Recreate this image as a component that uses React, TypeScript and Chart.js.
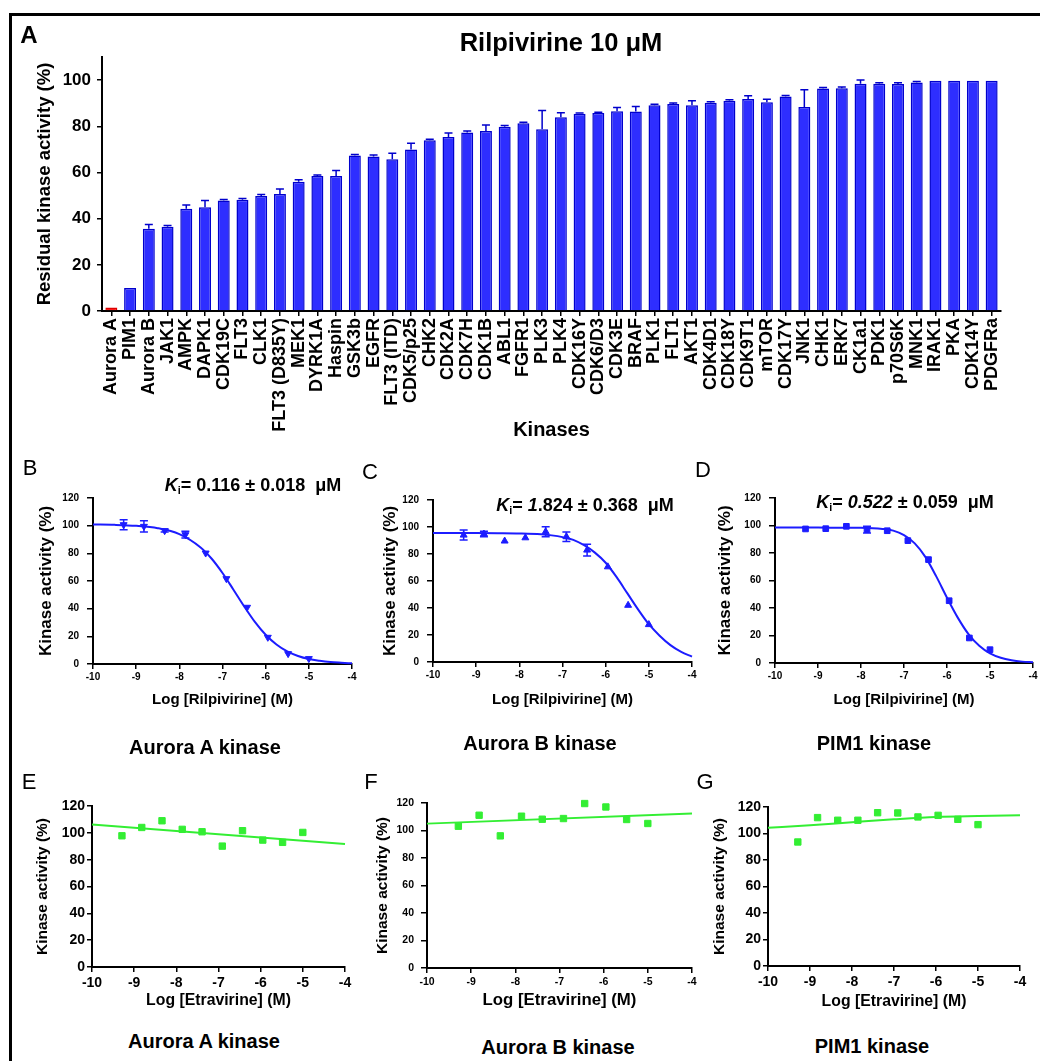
import React, { useEffect, useRef } from "react";
import { Chart, registerables } from "chart.js";

Chart.register(...registerables);

const FONT = "'Liberation Sans', Arial, Helvetica, sans-serif";
Chart.defaults.font.family = FONT;
Chart.defaults.color = "#000";

// ---------------- Panel A data ----------------
const kinases = [
  "Aurora A", "PIM1", "Aurora B", "JAK1", "AMPK", "DAPK1", "CDK19C", "FLT3", "CLK1", "FLT3 (D835Y)",
  "MEK1", "DYRK1A", "Haspin", "GSK3b", "EGFR", "FLT3 (ITD)", "CDK5/p25", "CHK2", "CDK2A", "CDK7H",
  "CDK1B", "ABL1", "FGFR1", "PLK3", "PLK4", "CDK16Y", "CDK6/D3", "CDK3E", "BRAF", "PLK1",
  "FLT1", "AKT1", "CDK4D1", "CDK18Y", "CDK9T1", "mTOR", "CDK17Y", "JNK1", "CHK1", "ERK7",
  "CK1a1", "PDK1", "p70S6K", "MNK1", "IRAK1", "PKA", "CDK14Y", "PDGFRa",
];
const residualActivity = [
  1.5, 10, 35.6, 36.5, 44.3, 44.9, 47.9, 48.2, 49.8, 50.7,
  56, 58.5, 58.5, 67.3, 66.9, 65.7, 69.9, 74, 75.4, 77.3,
  77.9, 79.8, 81.3, 78.7, 83.9, 85.4, 85.7, 86.5, 86.4, 89.1,
  89.6, 89.1, 90.2, 91, 91.8, 90.4, 92.9, 88.4, 96.4, 96.5,
  98.4, 98.4, 98.3, 99, 99.7, 99.7, 99.7, 99.7,
];
const residualError = [
  0, 0, 1.9, 0.5, 1.6, 3, 0.4, 0.5, 0.6, 2.1,
  0.8, 0.4, 2.3, 0.5, 0.7, 2.6, 2.7, 0.4, 1.7, 0.6,
  2.7, 0.5, 0.4, 8.1, 2, 0.4, 0.4, 1.6, 2.2, 0.4,
  0.5, 2, 0.4, 0.5, 1.4, 1.3, 0.4, 7.4, 0.4, 0.5,
  1.6, 0.4, 0.5, 0.4, 0, 0, 0, 0,
];
const residualTicks = [0, 20, 40, 60, 80, 100];

// ---------------- Dose-response data ----------------
const logTicks = [-10, -9, -8, -7, -6, -5, -4];
const activityTicks = [0, 20, 40, 60, 80, 100, 120];
const logConc = [-9.29, -8.82, -8.34, -7.86, -7.39, -6.91, -6.43, -5.95, -5.48, -5.0];

const rilAuroraA = [100.7, 99.5, 96.4, 93.5, 80.2, 61.7, 41, 19.3, 7.5, 3.9];
const rilAuroraAErr = [3.6, 4, 1, 2.5, 0, 0, 0, 0, 0, 0];
const rilAuroraB = [94, 94.8, 89.6, 92, 96.5, 92.8, 82.9, 70.5, 42, 27.7];
const rilAuroraBErr = [3.7, 2, 0, 0, 3.7, 3.5, 4.3, 0, 0, 0];
const rilPim1 = [97.5, 97.7, 99.4, 97, 96.2, 89, 75.2, 45.3, 18.2, 9.7];
const rilPim1Err = [0, 0, 0, 2.5, 0, 0, 0, 0, 0, 0];

const fitX = [-10, -9.5, -9, -8.5, -8, -7.5, -7.25, -7, -6.75, -6.5, -6.25, -6, -5.75, -5.5, -5.25, -5, -4.75, -4.5, -4.25, -4];
const rilAuroraAFit = [100.85, 100.6, 99.9, 98.2, 93.9, 84.1, 76.1, 65.8, 53.9, 41.7, 30.4, 21.1, 14.1, 9.1, 5.8, 3.6, 2.3, 1.4, 0.9, 0.5];
const rilAuroraBFit = [95.5, 95.5, 95.5, 95.4, 95.2, 94.6, 93.8, 92.5, 90.5, 86.5, 81, 73.5, 63, 51, 39, 28, 19.5, 12.5, 7.5, 4];
const rilPim1Fit = [98.5, 98.5, 98.5, 98.4, 98.3, 97.5, 96.3, 93, 87, 77, 63, 47.5, 33, 21, 12.5, 7, 3.8, 2, 1, 0.5];

const etraAuroraA = [97.8, 104, 109, 102.6, 100.8, 90.1, 101.6, 94.6, 92.9, 100.3];
const etraAuroraB = [103.1, 111.1, 96.1, 110.4, 108.2, 108.7, 119.6, 117.1, 108, 105.1];
const etraPim1 = [93.6, 112, 110, 110, 115.7, 115.5, 112.5, 113.7, 110.7, 106.7];
const etraLineX = [-10, -4];
const etraAuroraAFit = [106.3, 91.6];
const etraAuroraBFit = [105, 112.3];
const etraPim1FitX = [-10, -9, -8, -7, -6, -5, -4];
const etraPim1Fit = [104.4, 106.2, 108.5, 110.7, 112.5, 113.2, 113.7];

const kiValues = ["0.116 \u00b1 0.018", "1.824 \u00b1 0.368", "0.522 \u00b1 0.059"];

// ---------------- helpers ----------------
const BLUE = "#1c1cff";
const BAR_FILL = "#2e2eff";
const BAR_EDGE = "#0000cc";
const GREEN = "#33ee33";

type Geo = { left: number; top: number; width: number; height: number; l: number; t: number; r: number; b: number };

const toXY = (xs: number[], ys: number[]) => xs.map((x, i) => ({ x, y: ys[i] }));

const errorBarPlugin = {
  id: "errorBars",
  afterDatasetsDraw(chart: any, _args: any, opts: any) {
    if (!opts || !opts.errors) return;
    const idx = opts.datasetIndex || 0;
    const meta = chart.getDatasetMeta(idx);
    const ys = chart.scales.y;
    const ctx = chart.ctx;
    const data = chart.data.datasets[idx].data;
    const cap = opts.cap || 8;
    ctx.save();
    ctx.strokeStyle = opts.color;
    ctx.lineWidth = opts.lineWidth || 1.5;
    meta.data.forEach((el: any, i: number) => {
      const e = opts.errors[i];
      if (!e) return;
      const v = data[i];
      const val = typeof v === "number" ? v : v.y;
      const x = el.x;
      const yTop = ys.getPixelForValue(val + e);
      const yBot = opts.upOnly ? ys.getPixelForValue(val) : ys.getPixelForValue(val - e);
      ctx.beginPath();
      ctx.moveTo(x, yBot);
      ctx.lineTo(x, yTop);
      ctx.moveTo(x - cap / 2, yTop);
      ctx.lineTo(x + cap / 2, yTop);
      if (!opts.upOnly) {
        ctx.moveTo(x - cap / 2, yBot);
        ctx.lineTo(x + cap / 2, yBot);
      }
      ctx.stroke();
    });
    ctx.restore();
  },
};

function ChartBox({ geo, config }: { geo: Geo; config: () => any }) {
  const ref = useRef<HTMLCanvasElement | null>(null);
  useEffect(() => {
    if (!ref.current) return;
    const c = new Chart(ref.current, config());
    return () => c.destroy();
  }, []);
  return (
    <canvas
      ref={ref}
      width={geo.width}
      height={geo.height}
      style={{ position: "absolute", left: geo.left, top: geo.top, width: geo.width, height: geo.height }}
    />
  );
}

function Label(props: { x: number; y: number; size: number; bold?: boolean; rotate?: boolean; children: any }) {
  return (
    <div
      style={{
        position: "absolute",
        left: props.x,
        top: props.y,
        transform: "translate(-50%, -50%)" + (props.rotate ? " rotate(-90deg)" : ""),
        fontSize: props.size,
        fontWeight: props.bold ? "bold" : "normal",
        lineHeight: 1,
        whiteSpace: "nowrap",
        color: "#000",
      }}
    >
      {props.children}
    </div>
  );
}

// ---------------- Panel A ----------------
const geoA: Geo = { left: 0, top: 0, width: 1040, height: 460, l: 102, t: 57, r: 1001, b: 311 };

function configA() {
  const g = geoA;
  return {
    type: "bar",
    data: {
      labels: kinases,
      datasets: [
        {
          data: residualActivity,
          backgroundColor: kinases.map((_, i) => (i === 0 ? "#ff1a1a" : BAR_FILL)),
          borderColor: kinases.map((_, i) => (i === 0 ? "#dd0000" : BAR_EDGE)),
          borderWidth: 1.5,
          barPercentage: 0.64,
          categoryPercentage: 1,
        },
      ],
    },
    plugins: [errorBarPlugin],
    options: {
      animation: false,
      responsive: false,
      layout: { padding: { top: g.t - g.top, right: g.left + g.width - g.r, left: 0, bottom: 0 } },
      plugins: {
        legend: { display: false },
        tooltip: { enabled: false },
        errorBars: { datasetIndex: 0, errors: residualError, upOnly: true, color: BAR_EDGE, cap: 8, lineWidth: 1.5 },
      },
      scales: {
        x: {
          ticks: { autoSkip: false, minRotation: 90, maxRotation: 90, padding: 2, color: "#000", font: { size: 18, weight: "bold" } },
          grid: { drawOnChartArea: false, offset: false, tickLength: 5, color: "#000", lineWidth: 1.5 },
          border: { color: "#000", width: 2 },
          title: {
            display: true,
            text: "Kinases",
            color: "#000",
            font: { size: 20, weight: "bold", lineHeight: 1.2 },
            padding: { top: 0, bottom: g.top + g.height - 430 - 20 * 0.6 },
          },
          afterFit: (s: any) => {
            s.height = g.top + g.height - g.b;
          },
        },
        y: {
          min: 0,
          max: 110,
          afterBuildTicks: (s: any) => {
            s.ticks = residualTicks.map((v) => ({ value: v }));
          },
          ticks: { padding: 6, color: "#000", font: { size: 17, weight: "bold" } },
          grid: { drawOnChartArea: false, tickLength: 5, color: "#000", lineWidth: 1.5 },
          border: { color: "#000", width: 2 },
          title: {
            display: true,
            text: "Residual kinase activity (%)",
            color: "#000",
            font: { size: 18.5, weight: "bold", lineHeight: 1.2 },
            padding: { top: 45 - g.left - 18.5 * 0.6, bottom: 0 },
          },
          afterFit: (s: any) => {
            s.width = g.l - g.left;
          },
        },
      },
    },
  };
}

// ---------------- Dose panels ----------------
type DoseSpec = {
  geo: Geo;
  markers: { x: number; y: number }[];
  errors: number[] | null;
  fit: { x: number; y: number }[];
  color: string;
  pointStyle: string;
  rotation: number;
  radius: number;
  xTitle: string;
  yTitleCx: number;
  xTitleCy: number;
  tickSize: number;
  yTitleSize: number;
  xTitleSize: number;
  yTickPad: number;
  yTickLen: number;
  xTickPad: number;
  curved: boolean;
};

function doseConfig(p: DoseSpec) {
  const g = p.geo;
  return {
    type: "scatter",
    data: {
      datasets: [
        {
          data: p.markers,
          showLine: false,
          pointStyle: p.pointStyle,
          pointRotation: p.rotation,
          pointRadius: p.radius,
          backgroundColor: p.color,
          borderColor: p.color,
          borderWidth: 1,
          clip: false,
        },
        {
          data: p.fit,
          showLine: true,
          pointRadius: 0,
          borderColor: p.color,
          borderWidth: 2,
          fill: false,
          cubicInterpolationMode: p.curved ? "monotone" : "default",
          tension: 0,
          clip: false,
        },
      ],
    },
    plugins: [errorBarPlugin],
    options: {
      animation: false,
      responsive: false,
      layout: { padding: { top: g.t - g.top, right: g.left + g.width - g.r, left: 0, bottom: 0 } },
      plugins: {
        legend: { display: false },
        tooltip: { enabled: false },
        errorBars: p.errors
          ? { datasetIndex: 0, errors: p.errors, upOnly: false, color: p.color, cap: 8, lineWidth: 1.5 }
          : false,
      },
      scales: {
        x: {
          type: "linear",
          min: -10,
          max: -4,
          afterBuildTicks: (s: any) => {
            s.ticks = logTicks.map((v) => ({ value: v }));
          },
          ticks: { padding: p.xTickPad, color: "#000", font: { size: p.tickSize, weight: "bold" } },
          grid: { drawOnChartArea: false, tickLength: 5, color: "#000", lineWidth: 1.5 },
          border: { color: "#000", width: 2 },
          title: {
            display: true,
            text: p.xTitle,
            color: "#000",
            font: { size: p.xTitleSize, weight: "bold", lineHeight: 1.2 },
            padding: { top: 0, bottom: g.top + g.height - p.xTitleCy - p.xTitleSize * 0.6 },
          },
          afterFit: (s: any) => {
            s.height = g.top + g.height - g.b;
          },
        },
        y: {
          type: "linear",
          min: 0,
          max: 120,
          afterBuildTicks: (s: any) => {
            s.ticks = activityTicks.map((v) => ({ value: v }));
          },
          ticks: { padding: p.yTickPad, color: "#000", font: { size: p.tickSize, weight: "bold" } },
          grid: { drawOnChartArea: false, tickLength: p.yTickLen, color: "#000", lineWidth: 1.5 },
          border: { color: "#000", width: 2 },
          title: {
            display: true,
            text: "Kinase activity (%)",
            color: "#000",
            font: { size: p.yTitleSize, weight: "bold", lineHeight: 1.2 },
            padding: { top: p.yTitleCx - g.left - p.yTitleSize * 0.6, bottom: 0 },
          },
          afterFit: (s: any) => {
            s.width = g.l - g.left;
          },
        },
      },
    },
  };
}

const rilCommon = {
  xTitle: "Log [Rilpivirine] (M)",
  xTitleCy: 700,
  tickSize: 10,
  yTitleSize: 17,
  xTitleSize: 15,
  yTickPad: 8,
  yTickLen: 6,
  xTickPad: 2,
  curved: true,
  color: BLUE,
};

const specB: DoseSpec = {
  ...rilCommon,
  geo: { left: 0, top: 455, width: 380, height: 270, l: 93, t: 498, r: 352, b: 664 },
  markers: toXY(logConc, rilAuroraA),
  errors: rilAuroraAErr,
  fit: toXY(fitX, rilAuroraAFit),
  pointStyle: "triangle",
  rotation: 180,
  radius: 4,
  yTitleCx: 46,
};
const specC: DoseSpec = {
  ...rilCommon,
  geo: { left: 350, top: 455, width: 370, height: 270, l: 433, t: 500, r: 692, b: 662 },
  markers: toXY(logConc, rilAuroraB),
  errors: rilAuroraBErr,
  fit: toXY(fitX, rilAuroraBFit),
  pointStyle: "triangle",
  rotation: 0,
  radius: 4,
  yTitleCx: 390,
};
const specD: DoseSpec = {
  ...rilCommon,
  geo: { left: 690, top: 455, width: 350, height: 270, l: 775, t: 498, r: 1033, b: 663 },
  markers: toXY(logConc, rilPim1),
  errors: rilPim1Err,
  fit: toXY(fitX, rilPim1Fit),
  pointStyle: "rect",
  rotation: 0,
  radius: 4,
  yTitleCx: 725,
};

const etraCommon = {
  xTitle: "Log [Etravirine] (M)",
  yTitleSize: 15.5,
  xTitleSize: 15.8,
  yTickPad: 2,
  yTickLen: 5,
  xTickPad: 3,
  color: GREEN,
  pointStyle: "rect",
  rotation: 0,
  radius: 4.5,
  errors: null,
};

const specE: DoseSpec = {
  ...etraCommon,
  geo: { left: 0, top: 770, width: 370, height: 250, l: 92, t: 806, r: 345, b: 967 },
  markers: toXY(logConc, etraAuroraA),
  fit: toXY(etraLineX, etraAuroraAFit),
  yTitleCx: 43,
  xTitleCy: 1001,
  tickSize: 14,
  curved: false,
};
const specF: DoseSpec = {
  ...etraCommon,
  geo: { left: 350, top: 770, width: 370, height: 250, l: 427, t: 803, r: 692, b: 968 },
  markers: toXY(logConc, etraAuroraB),
  fit: toXY(etraLineX, etraAuroraBFit),
  yTitleCx: 383,
  xTitleCy: 1000,
  tickSize: 10.5,
  xTitleSize: 16.8,
  yTickPad: 7,
  yTickLen: 6,
  curved: false,
};
const specG: DoseSpec = {
  ...etraCommon,
  geo: { left: 690, top: 770, width: 350, height: 250, l: 768, t: 807, r: 1020, b: 966 },
  markers: toXY(logConc, etraPim1),
  fit: toXY(etraPim1FitX, etraPim1Fit),
  yTitleCx: 720,
  xTitleCy: 1002,
  tickSize: 14,
  curved: true,
};

function Ki({ x, y, value, italicLead }: { x: number; y: number; value: string; italicLead: number }) {
  const lead = value.slice(0, italicLead);
  const rest = value.slice(italicLead);
  return (
    <Label x={x} y={y} size={18} bold>
      <i>K</i>
      <sub style={{ fontSize: "0.6em", verticalAlign: "-0.3em", lineHeight: 0 }}>i</sub>
      {"= "}
      <i>{lead}</i>
      {rest}
      {"\u00a0\u00a0\u03bcM"}
    </Label>
  );
}

export default function App() {
  return (
    <div
      style={{
        position: "fixed",
        left: 0,
        top: 0,
        width: 1040,
        height: 1061,
        overflow: "hidden",
        background: "#fff",
        fontFamily: FONT,
      }}
    >
      <div
        style={{
          position: "absolute",
          left: 9,
          top: 13,
          width: 1100,
          height: 1100,
          border: "3px solid #000",
          boxSizing: "border-box",
        }}
      />
      <ChartBox geo={geoA} config={configA} />
      <ChartBox geo={specB.geo} config={() => doseConfig(specB)} />
      <ChartBox geo={specC.geo} config={() => doseConfig(specC)} />
      <ChartBox geo={specD.geo} config={() => doseConfig(specD)} />
      <ChartBox geo={specE.geo} config={() => doseConfig(specE)} />
      <ChartBox geo={specF.geo} config={() => doseConfig(specF)} />
      <ChartBox geo={specG.geo} config={() => doseConfig(specG)} />

      <Label x={29} y={35} size={24} bold>A</Label>
      <Label x={561} y={43} size={25.5} bold>Rilpivirine 10 μM</Label>

      <Label x={30} y={468} size={22}>B</Label>
      <Label x={370} y={472} size={22}>C</Label>
      <Label x={703} y={470} size={22}>D</Label>
      <Ki x={253} y={485} value={kiValues[0]} italicLead={0} />
      <Ki x={585} y={505} value={kiValues[1]} italicLead={1} />
      <Ki x={905} y={502} value={kiValues[2]} italicLead={5} />

      <Label x={205} y={747} size={20} bold>Aurora A kinase</Label>
      <Label x={540} y={743} size={20} bold>Aurora B kinase</Label>
      <Label x={874} y={743} size={20} bold>PIM1 kinase</Label>

      <Label x={29} y={782} size={22}>E</Label>
      <Label x={371} y={782} size={22}>F</Label>
      <Label x={705} y={782} size={22}>G</Label>

      <Label x={204} y={1041} size={20} bold>Aurora A kinase</Label>
      <Label x={558} y={1047} size={20} bold>Aurora B kinase</Label>
      <Label x={872} y={1046} size={20} bold>PIM1 kinase</Label>
    </div>
  );
}
